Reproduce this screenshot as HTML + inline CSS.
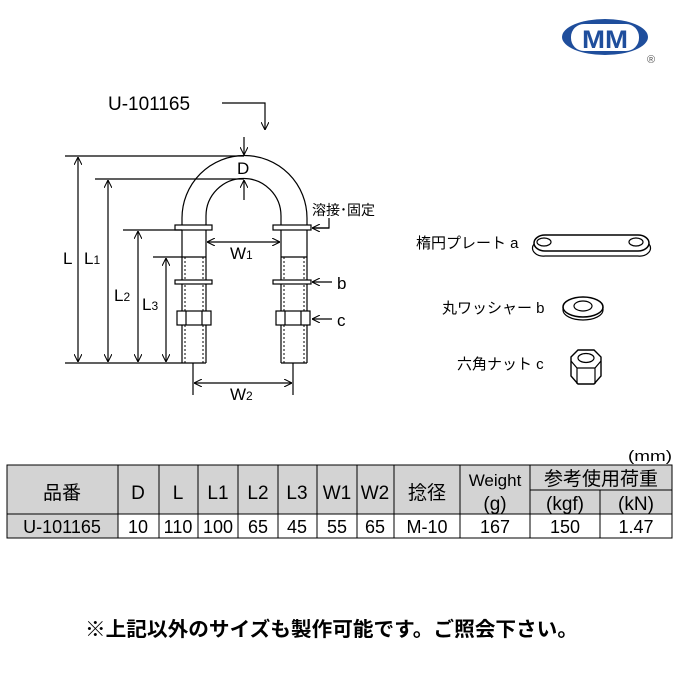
<!DOCTYPE html>
<html><head><meta charset="utf-8"><style>
body{margin:0;background:#fff;}
svg{display:block;font-family:"Liberation Sans","Noto Sans CJK JP",sans-serif;}
</style></head><body>
<svg width="680" height="680" viewBox="0 0 680 680" xmlns="http://www.w3.org/2000/svg">
<defs>
<marker id="a" viewBox="0 0 10 10" refX="10" refY="5" markerWidth="8" markerHeight="8" orient="auto-start-reverse" markerUnits="userSpaceOnUse"><path d="M0,0 L10,5 L0,10" fill="none" stroke="#000" stroke-width="1.3"/></marker>
</defs>
<ellipse cx="605" cy="37" rx="43" ry="18" fill="#1f4e9c"/>
<rect x="571" y="24" width="68" height="27" rx="13" fill="#fff"/>
<text x="605" y="48" font-size="25" font-weight="bold" fill="#1f4e9c" text-anchor="middle" textLength="46" lengthAdjust="spacingAndGlyphs">MM</text>
<text x="647" y="63" font-size="11" fill="#555">®</text>

<g stroke="#000" stroke-width="1.2" fill="none">
<path d="M182,363 V218 A62,62 0 0 1 307,218 V363"/>
<path d="M206,363 V216 A37.5,37.5 0 0 1 281,216 V363"/>
<line x1="182" y1="363" x2="206" y2="363"/><line x1="281" y1="363" x2="307" y2="363"/>
<g stroke-dasharray="2,2" stroke-width="1"><line x1="185" y1="257" x2="185" y2="363"/><line x1="203" y1="257" x2="203" y2="363"/><line x1="284" y1="257" x2="284" y2="363"/><line x1="304" y1="257" x2="304" y2="363"/></g>
<line x1="182" y1="257" x2="206" y2="257"/><line x1="281" y1="257" x2="307" y2="257"/>
<rect x="175" y="225" width="37" height="5" fill="#fff"/><rect x="273" y="225" width="38" height="5" fill="#fff"/>
<rect x="175" y="280" width="37" height="4" fill="#fff"/><rect x="273" y="280" width="38" height="4" fill="#fff"/>
<rect x="177" y="311" width="34" height="14" fill="#fff"/><rect x="276" y="311" width="34" height="14" fill="#fff"/>
<line x1="186" y1="311" x2="186" y2="325"/><line x1="202" y1="311" x2="202" y2="325"/>
<line x1="285" y1="311" x2="285" y2="325"/><line x1="301" y1="311" x2="301" y2="325"/>
<line x1="65" y1="156" x2="244" y2="156"/>
<line x1="95" y1="179" x2="244" y2="179"/>
<line x1="123" y1="230" x2="182" y2="230"/>
<line x1="153" y1="257" x2="182" y2="257"/>
<line x1="65" y1="363" x2="182" y2="363"/>
<line x1="193" y1="363" x2="193" y2="395"/><line x1="293" y1="363" x2="293" y2="395"/>
<line x1="78" y1="157" x2="78" y2="362" marker-start="url(#a)" marker-end="url(#a)"/>
<line x1="108" y1="180" x2="108" y2="362" marker-start="url(#a)" marker-end="url(#a)"/>
<line x1="138" y1="231" x2="138" y2="362" marker-start="url(#a)" marker-end="url(#a)"/>
<line x1="166" y1="258" x2="166" y2="362" marker-start="url(#a)" marker-end="url(#a)"/>
<line x1="207" y1="242" x2="280" y2="242" marker-start="url(#a)" marker-end="url(#a)"/>
<line x1="194" y1="383" x2="292" y2="383" marker-start="url(#a)" marker-end="url(#a)"/>
<line x1="244" y1="137" x2="244" y2="155" marker-end="url(#a)"/>
<line x1="244" y1="200" x2="244" y2="180" marker-end="url(#a)"/>
<polyline points="222,103 265,103 265,130" marker-end="url(#a)"/>
<polyline points="329,218 329,228 313,228" />
<line x1="329" y1="228" x2="312" y2="228" marker-end="url(#a)"/>
<line x1="332" y1="282" x2="312" y2="282" marker-end="url(#a)"/>
<line x1="332" y1="319" x2="312" y2="319" marker-end="url(#a)"/>
<path d="M545,235 H638 A11,8 0 0 1 638,251 H545 A11,8 0 0 1 545,235 Z" stroke-width="1.5"/>
<path d="M534,244 A11,8 0 0 0 545,256 H638 A11,8 0 0 0 649,244"/>
<ellipse cx="544" cy="242" rx="7" ry="4"/><ellipse cx="636" cy="242" rx="7" ry="4"/>
<ellipse cx="583" cy="307" rx="20" ry="10" stroke-width="1.5"/>
<path d="M563,307 v3 a20,10 0 0 0 40,0 v-3"/>
<ellipse cx="583" cy="306" rx="9" ry="5"/>
<path d="M571,357 L578,350 L594,350 L601,357 L601,376 L594,384 L578,384 L571,376 Z" stroke-width="1.4"/>
<path d="M571,361 L577,368 L595,368 L601,361 M577,368 V384 M595,368 V384"/>
<ellipse cx="586" cy="358" rx="8" ry="4.5"/>
</g>
<g font-size="17" fill="#000">
<text x="108" y="110" font-size="19">U-101165</text>
<text x="237" y="174">D</text>
<text x="63" y="264">L</text>
<text x="84" y="264">L<tspan font-size="12">1</tspan></text>
<text x="114" y="301">L<tspan font-size="12">2</tspan></text>
<text x="142" y="310">L<tspan font-size="12">3</tspan></text>
<text x="230" y="259">W<tspan font-size="12">1</tspan></text>
<text x="230" y="400">W<tspan font-size="12">2</tspan></text>
<text x="337" y="289">b</text>
<text x="337" y="326">c</text>
</g>
<g font-size="15" fill="#000">
<text x="312" y="215" font-size="14">溶接･固定</text>
<text x="416" y="248">楕円プレート a</text>
<text x="442" y="313">丸ワッシャー b</text>
<text x="457" y="369">六角ナット c</text>
</g>
<text x="672" y="461" font-size="15" text-anchor="end" textLength="44" lengthAdjust="spacingAndGlyphs">(mm)</text>
<g font-size="19" text-anchor="middle">
<rect x="7" y="465" width="665" height="49" fill="#d3d3d3" stroke="#000"/>
<rect x="118" y="514" width="554" height="24" fill="#fff" stroke="#000"/>
<rect x="7" y="514" width="111" height="24" fill="#d3d3d3" stroke="#000"/>
<g stroke="#000" stroke-width="1">
<line x1="118" y1="465" x2="118" y2="538"/><line x1="159" y1="465" x2="159" y2="538"/><line x1="198" y1="465" x2="198" y2="538"/><line x1="238" y1="465" x2="238" y2="538"/><line x1="278" y1="465" x2="278" y2="538"/><line x1="317" y1="465" x2="317" y2="538"/><line x1="357" y1="465" x2="357" y2="538"/><line x1="394" y1="465" x2="394" y2="538"/><line x1="460" y1="465" x2="460" y2="538"/><line x1="530" y1="465" x2="530" y2="538"/><line x1="600" y1="490" x2="600" y2="538"/><line x1="530" y1="490" x2="672" y2="490"/>
</g>
<text x="62" y="499">品番</text><text x="138" y="499">D</text><text x="178" y="499">L</text><text x="218" y="499">L1</text><text x="258" y="499">L2</text><text x="297" y="499">L3</text><text x="337" y="499">W1</text><text x="375" y="499">W2</text><text x="427" y="499">捻径</text>
<text x="495" y="486" font-size="17">Weight</text><text x="495" y="510">(g)</text>
<text x="601" y="485">参考使用荷重</text><text x="565" y="510">(kgf)</text><text x="636" y="510">(kN)</text>
<g font-size="18"><text x="62" y="533">U-101165</text><text x="138" y="533">10</text><text x="178" y="533">110</text><text x="218" y="533">100</text><text x="258" y="533">65</text><text x="297" y="533">45</text><text x="337" y="533">55</text><text x="375" y="533">65</text><text x="427" y="533">M-10</text><text x="495" y="533">167</text><text x="565" y="533">150</text><text x="636" y="533">1.47</text></g>
</g>
<text x="85" y="636" font-size="20" font-weight="bold" textLength="493" lengthAdjust="spacingAndGlyphs">※上記以外のサイズも製作可能です。ご照会下さい。</text>
</svg>
</body></html>
